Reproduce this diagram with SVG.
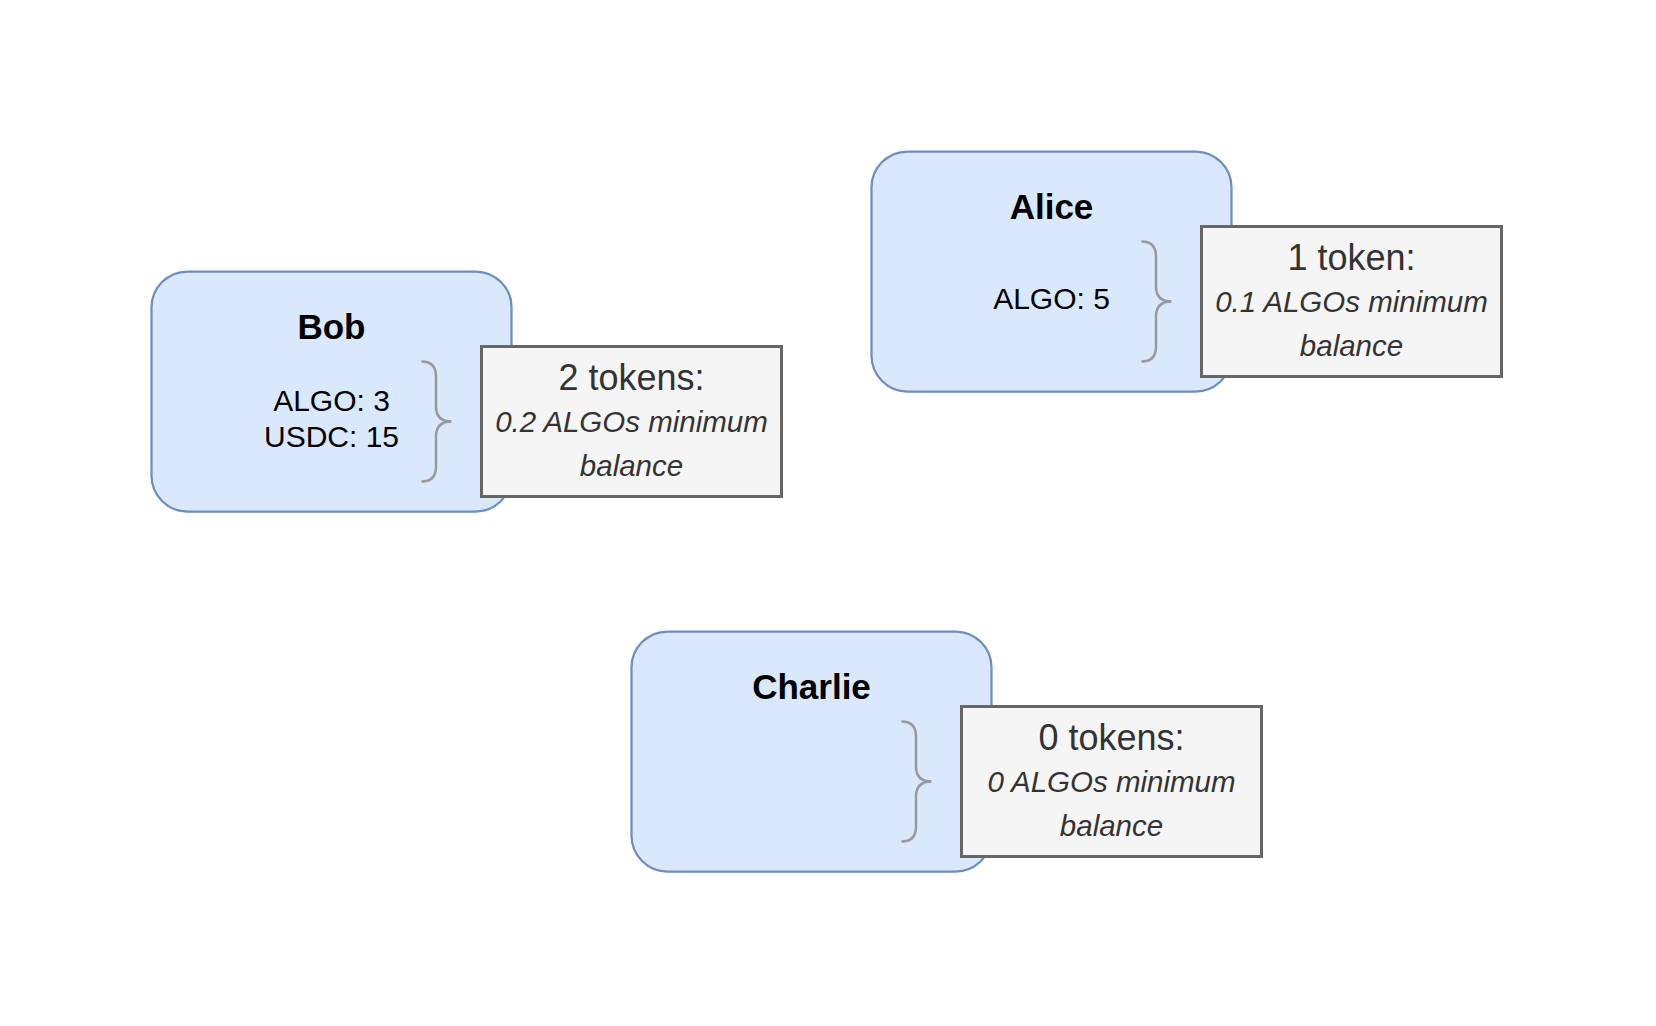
<svg xmlns="http://www.w3.org/2000/svg" width="1656" height="1026" viewBox="0 0 1656 1026">
<style>
.acct{fill:#dae8fc;stroke:#6c8ebf;stroke-width:2.25}
.tok{fill:#f5f5f5;stroke:#666666;stroke-width:3}
.brace{fill:none;stroke:#999999;stroke-width:2.5}
.title{font-family:"Liberation Sans",Arial,Helvetica,sans-serif;font-weight:bold;font-size:35px;fill:#000000;text-anchor:middle}
.bal{font-family:"Liberation Sans",Arial,Helvetica,sans-serif;font-size:30px;fill:#000000;text-anchor:middle}
.tt{font-family:"Liberation Sans",Arial,Helvetica,sans-serif;font-size:36px;fill:#333333;text-anchor:middle}
.ti{font-family:"Liberation Sans",Arial,Helvetica,sans-serif;font-size:29.5px;font-style:italic;fill:#333333;text-anchor:middle}
</style>
<defs>
<path id="curly" d="M0,0 Q14.5,0 14.5,15 L14.5,45 Q14.5,60 30,60 Q14.5,60 14.5,75 L14.5,105 Q14.5,120 0,120"/>
</defs>
<rect width="1656" height="1026" fill="#ffffff"/>
<g id="connectors"/>

<g id="bob">
<rect class="acct" x="151.5" y="271.5" width="360" height="240" rx="36"/>
<text class="title" x="331.5" y="338.5">Bob</text>
<text class="bal" x="331.5" y="410.5">ALGO: 3</text>
<text class="bal" x="331.5" y="446.5">USDC: 15</text>
</g>
<g id="bob-brace"><use href="#curly" class="brace" x="421.5" y="361.5"/></g>
<g id="bob-tokens">
<rect class="tok" x="481.5" y="346.5" width="300" height="150"/>
<text class="tt" x="631.5" y="390">2 tokens:</text>
<text class="ti" x="631.5" y="432">0.2 ALGOs minimum</text>
<text class="ti" x="631.5" y="476">balance</text>
</g>

<g id="alice">
<rect class="acct" x="871.5" y="151.5" width="360" height="240" rx="36"/>
<text class="title" x="1051.5" y="218.5">Alice</text>
<text class="bal" x="1051.5" y="309">ALGO: 5</text>
</g>
<g id="alice-brace"><use href="#curly" class="brace" x="1141.5" y="241.5"/></g>
<g id="alice-tokens">
<rect class="tok" x="1201.5" y="226.5" width="300" height="150"/>
<text class="tt" x="1351.5" y="270">1 token:</text>
<text class="ti" x="1351.5" y="312">0.1 ALGOs minimum</text>
<text class="ti" x="1351.5" y="356">balance</text>
</g>

<g id="charlie">
<rect class="acct" x="631.5" y="631.5" width="360" height="240" rx="36"/>
<text class="title" x="811.5" y="698.5">Charlie</text>
</g>
<g id="charlie-brace"><use href="#curly" class="brace" x="901.5" y="721.5"/></g>
<g id="charlie-tokens">
<rect class="tok" x="961.5" y="706.5" width="300" height="150"/>
<text class="tt" x="1111.5" y="750">0 tokens:</text>
<text class="ti" x="1111.5" y="792">0 ALGOs minimum</text>
<text class="ti" x="1111.5" y="836">balance</text>
</g>
</svg>
